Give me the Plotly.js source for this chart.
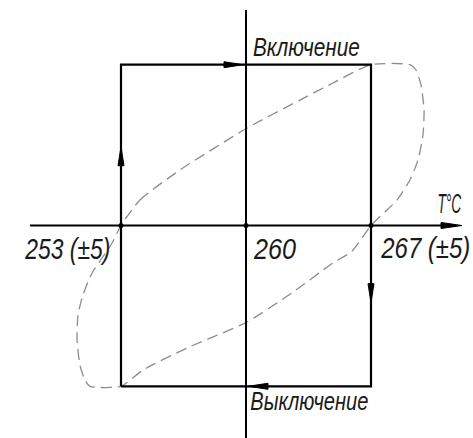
<!DOCTYPE html>
<html>
<head>
<meta charset="utf-8">
<script src="https://cdn.plot.ly/plotly-3.0.1.min.js"></script>
<style>html,body{margin:0;padding:0;background:#fff;}#chart{width:473px;height:438px;}</style>
</head>
<body>
<div id="chart"></div>
<script>
// ---- data ----
const tempLow = 253;          // switch-on threshold
const tempMid = 260;
const tempHigh = 267;         // switch-off threshold
const levelOn = 1;
const levelOff = -1;
const tickLabels = ["253 (±5)", "260", "267 (±5)"];
const stateLabels = ["Включение", "Выключение"];
const axisLabel = "T°C";

// dashed loop (temperature, relative level)
const loopT = [253.00, 254.06, 256.30, 260.06, 263.02, 264.87, 267.00,
               269.18, 269.52, 269.80, 269.97, 269.91, 269.63, 269.18, 268.46, 267.78, 267.00,
               265.94, 264.87, 262.63, 260.06, 256.70, 254.23, 253.00,
               251.26, 250.98, 250.70, 250.54, 250.59, 250.87, 251.38, 251.94, 252.50, 253.00];
const loopV = [0, 0.159, 0.345, 0.606, 0.780, 0.886, 1.0,
               1.0, 0.967, 0.874, 0.718, 0.563, 0.407, 0.283, 0.159, 0.084, 0,
               -0.159, -0.233, -0.414, -0.600, -0.762, -0.899, -1.0,
               -1.0, -0.961, -0.868, -0.712, -0.557, -0.432, -0.295, -0.202, -0.109, 0];

// ---- geometry helpers ----
const W = 473, H = 438;
const xRange = [246.224, 272.712];
const yRange = [-1.3215, 1.4024];
const toT = px => xRange[0] + px * (xRange[1] - xRange[0]) / W;
const toV = py => yRange[1] - py * (yRange[1] - yRange[0]) / H;
const pxOf = t => (t - xRange[0]) * W / (xRange[1] - xRange[0]);
const pyOf = v => (yRange[1] - v) * H / (yRange[1] - yRange[0]);

function arrow(tx, ty, dx, dy, len, hw) {
  const bx = tx - dx * len, by = ty - dy * len;
  const ppx = -dy * hw, ppy = dx * hw;
  const xs = [tx, bx + ppx, bx - ppx, tx].map(toT);
  const ys = [ty, by + ppy, by - ppy, ty].map(toV);
  return {x: xs, y: ys, mode: 'lines', fill: 'toself', fillcolor: '#000',
          line: {color: '#000', width: 1}, hoverinfo: 'skip', showlegend: false};
}

const black = '#000';
const traces = [];
traces.push({x: loopT, y: loopV, mode: 'lines',
  line: {color: '#8c8c8c', width: 1.3, dash: '11px,6px', shape: 'spline', smoothing: 0.6},
  hoverinfo: 'skip', showlegend: false});
// rectangle
traces.push({x: [tempLow, tempLow, tempHigh, tempHigh, tempLow],
             y: [levelOff, levelOn, levelOn, levelOff, levelOff],
             mode: 'lines', line: {color: black, width: 2.2}, hoverinfo: 'skip', showlegend: false});
// horizontal axis
traces.push({x: [toT(30), toT(456)], y: [0, 0], mode: 'lines',
             line: {color: black, width: 2}, hoverinfo: 'skip', showlegend: false});
// vertical axis
traces.push({x: [tempMid, tempMid], y: [toV(10), toV(438)], mode: 'lines',
             line: {color: black, width: 2}, hoverinfo: 'skip', showlegend: false});
// points on axis
traces.push({x: [tempLow, tempMid, tempHigh], y: [0, 0, 0], mode: 'markers',
             marker: {color: black, size: 5}, hoverinfo: 'skip', showlegend: false});
// arrowheads
const xMid = pxOf(tempMid), xL = pxOf(tempLow), xH = pxOf(tempHigh);
const yOn = pyOf(levelOn), yOff = pyOf(levelOff), y0 = pyOf(0);
traces.push(arrow(xMid - 3, yOn, 1, 0, 19, 3));
traces.push(arrow(xL, pyOf(0.49), 0, -1, 19, 3));
traces.push(arrow(xH, pyOf(-0.48), 0, 1, 19, 3));
traces.push(arrow(xMid + 2, yOff, -1, 0, 20, 3));
traces.push(arrow(462, y0, 1, 0, 21, 3));

const fam = '"Liberation Sans", Arial, sans-serif';
// [text, centre x px, baseline px, font size, target width px]
const labelSpecs = [
  [stateLabels[0], 306.5, 56, 25, 107],
  [stateLabels[1], 309, 410, 26, 118],
  [tickLabels[0], 67.5, 259.5, 29, 85],
  [tickLabels[1], 274, 259, 29, 42],
  [tickLabels[2], 425, 258.5, 29, 89],
  [axisLabel, 449.5, 213, 28, 24]
];
const annotations = labelSpecs.map(s => ({
  text: s[0], x: toT(s[1]), y: toV(s[2] - 0.3465 * s[3]), xref: 'x', yref: 'y',
  showarrow: false, xanchor: 'center', yanchor: 'middle', borderpad: 0, borderwidth: 0,
  font: {family: fam, size: s[3], color: '#1a1a1a', style: 'italic'}
}));

const layout = {
  width: W, height: H, margin: {l: 0, r: 0, t: 0, b: 0},
  paper_bgcolor: '#fff', plot_bgcolor: '#fff', showlegend: false,
  xaxis: {range: xRange, visible: false, fixedrange: true},
  yaxis: {range: yRange, visible: false, fixedrange: true},
  annotations: annotations
};
Plotly.newPlot('chart', traces, layout, {staticPlot: true, displayModeBar: false}).then(gd => {
  // narrow the drawing-style lettering to the reference widths (horizontal scale about its centre)
  gd.querySelectorAll('.annotation').forEach(g => {
    const i = +g.getAttribute('data-index');
    const t = g.querySelector('.annotation-text');
    const s = labelSpecs[i];
    if (!t || !s) return;
    const w = t.getComputedTextLength();
    if (!w) return;
    const sx = s[4] / w, cx = s[1];
    const prev = g.getAttribute('transform') || '';
    g.setAttribute('transform',
      'translate(' + cx + ',0) scale(' + sx + ',1) translate(' + (-cx) + ',0) ' + prev);
  });
});
</script>
</body>
</html>
